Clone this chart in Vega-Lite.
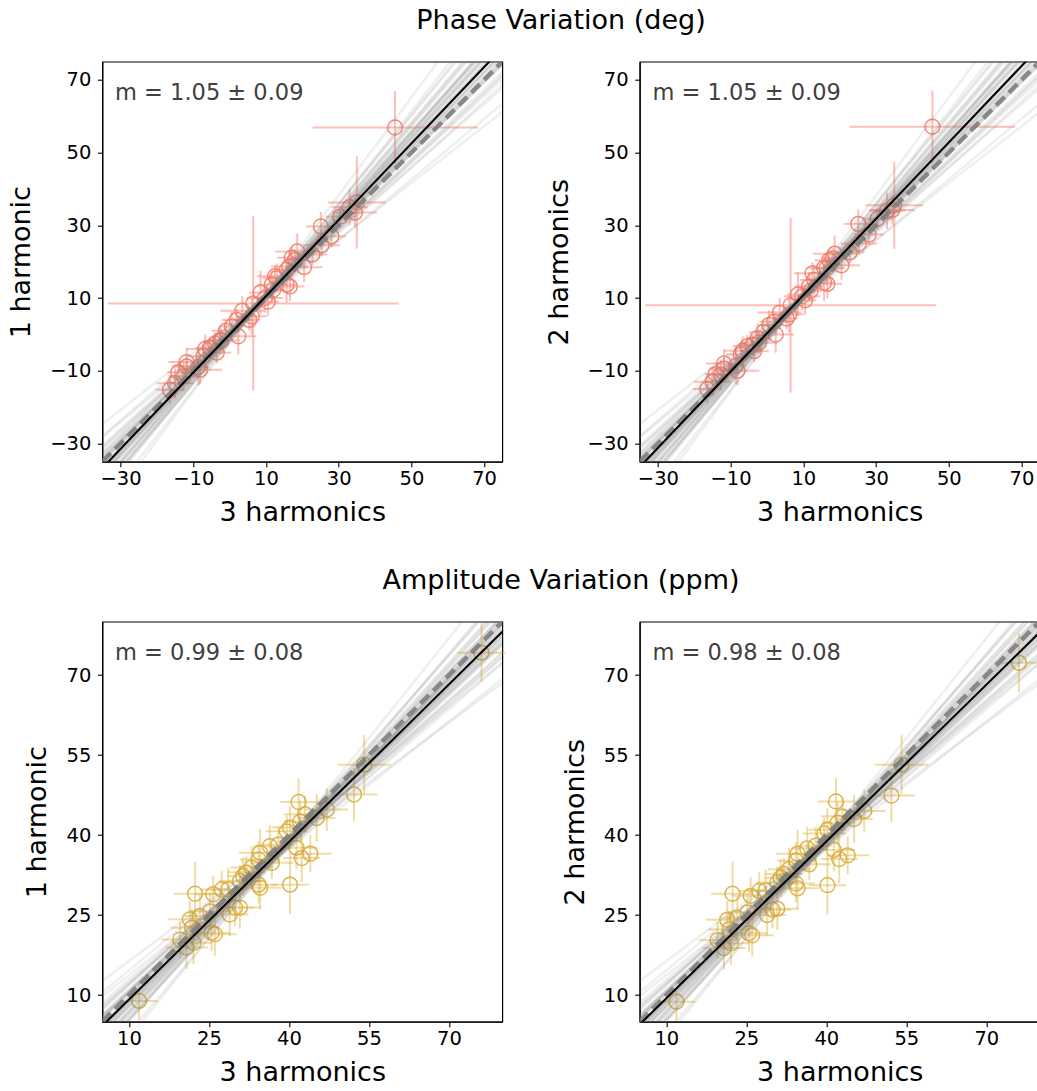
{
"$schema": "https://vega.github.io/schema/vega-lite/v6.json",
"autosize": {"type": "none"},
"padding": {"left": 102.3, "top": 61.7, "right": 934.7, "bottom": 1029.3},
"background": "white",
"config": {
  "font": "DejaVu Sans",
  "view": {"stroke": "#000000", "strokeWidth": 1.2},
  "axis": {"domainColor": "#000000", "domainWidth": 1.2, "tickColor": "#000000", "tickSize": 5, "tickWidth": 1.1, "labelColor": "#000000", "labelFontSize": 19.5, "labelFont": "DejaVu Sans", "titleFont": "DejaVu Sans", "titleFontSize": 27, "titleFontWeight": "normal", "titleColor": "#000000", "grid": false, "labelExpr": "replace(datum.label, '-', '\u2212')"},
  "axisY": {"titlePadding": 14, "labelPadding": 6.5},
  "axisX": {"titlePadding": 11, "labelPadding": 3},
  "title": {"font": "DejaVu Sans", "fontSize": 27, "fontWeight": "normal", "color": "#000000"}
},
"datasets": {
  "phase": [
    {"x": 45.5, "xe": 22.7, "y1": 56.9, "ye1": 10, "y2": 57.1, "ye2": 10},
    {"x": 35.0, "xe": 8, "y1": 36.3, "ye1": 12.7, "y2": 35.5, "ye2": 12},
    {"x": 34.5, "xe": 6, "y1": 33.5, "ye1": 4, "y2": 34.2, "ye2": 4},
    {"x": 33.0, "xe": 5, "y1": 35.0, "ye1": 5, "y2": 34.0, "ye2": 5},
    {"x": 30.4, "xe": 4, "y1": 32.4, "ye1": 3, "y2": 31.8, "ye2": 3},
    {"x": 25.1, "xe": 4, "y1": 29.7, "ye1": 4, "y2": 30.4, "ye2": 4},
    {"x": 25.3, "xe": 5, "y1": 24.5, "ye1": 3, "y2": 25.0, "ye2": 3},
    {"x": 22.8, "xe": 4, "y1": 22.0, "ye1": 3, "y2": 22.6, "ye2": 3},
    {"x": 18.6, "xe": 6, "y1": 22.8, "ye1": 5, "y2": 22.2, "ye2": 5},
    {"x": 17.1, "xe": 4, "y1": 21.1, "ye1": 3, "y2": 20.4, "ye2": 3},
    {"x": 18.0, "xe": 3, "y1": 20.5, "ye1": 3, "y2": 20.9, "ye2": 3},
    {"x": 16.4, "xe": 5, "y1": 18.7, "ye1": 4, "y2": 18.2, "ye2": 4},
    {"x": 15.7, "xe": 3, "y1": 17.8, "ye1": 3, "y2": 18.3, "ye2": 3},
    {"x": 16.6, "xe": 4, "y1": 13.2, "ye1": 4, "y2": 13.9, "ye2": 4},
    {"x": 15.7, "xe": 3, "y1": 13.7, "ye1": 5, "y2": 14.2, "ye2": 5},
    {"x": 13.0, "xe": 4, "y1": 15.5, "ye1": 4, "y2": 15.0, "ye2": 4},
    {"x": 12.5, "xe": 5, "y1": 16.0, "ye1": 3, "y2": 16.8, "ye2": 3},
    {"x": 12.0, "xe": 3, "y1": 12.3, "ye1": 3, "y2": 12.0, "ye2": 3},
    {"x": 11.6, "xe": 4, "y1": 13.7, "ye1": 4, "y2": 13.2, "ye2": 4},
    {"x": 9.7, "xe": 5, "y1": 10.0, "ye1": 4, "y2": 10.5, "ye2": 4},
    {"x": 8.5, "xe": 3, "y1": 11.5, "ye1": 6, "y2": 11.0, "ye2": 6},
    {"x": 6.5, "xe": 40, "y1": 8.5, "ye1": 24, "y2": 8.0, "ye2": 24},
    {"x": 6.1, "xe": 4, "y1": 5.0, "ye1": 5, "y2": 5.5, "ye2": 5},
    {"x": 5.4, "xe": 3, "y1": 4.0, "ye1": 3, "y2": 4.4, "ye2": 3},
    {"x": 3.5, "xe": 6, "y1": 6.5, "ye1": 4, "y2": 6.0, "ye2": 4},
    {"x": 1.95, "xe": 4, "y1": 4.0, "ye1": 3, "y2": 3.5, "ye2": 3},
    {"x": 0.6, "xe": 3, "y1": 2.2, "ye1": 4, "y2": 2.6, "ye2": 4},
    {"x": 2.4, "xe": 5, "y1": -0.5, "ye1": 5, "y2": 0.0, "ye2": 5},
    {"x": -1.0, "xe": 4, "y1": 1.0, "ye1": 3, "y2": 0.6, "ye2": 3},
    {"x": -2.6, "xe": 3, "y1": -1.5, "ye1": 4, "y2": -1.0, "ye2": 4},
    {"x": -2.2, "xe": 5, "y1": -1.7, "ye1": 3, "y2": -2.3, "ye2": 3},
    {"x": -5.4, "xe": 4, "y1": -3.7, "ye1": 3, "y2": -3.2, "ye2": 3},
    {"x": -4.0, "xe": 3, "y1": -2.5, "ye1": 3, "y2": -2.9, "ye2": 3},
    {"x": -6.7, "xe": 5, "y1": -4.0, "ye1": 4, "y2": -4.5, "ye2": 4},
    {"x": -7.2, "xe": 4, "y1": -6.0, "ye1": 3, "y2": -5.5, "ye2": 3},
    {"x": -8.6, "xe": 3, "y1": -9.0, "ye1": 5, "y2": -8.6, "ye2": 5},
    {"x": -8.1, "xe": 6, "y1": -9.7, "ye1": 4, "y2": -10.0, "ye2": 4},
    {"x": -11.8, "xe": 4, "y1": -8.8, "ye1": 3, "y2": -9.4, "ye2": 3},
    {"x": -11.8, "xe": 5, "y1": -7.6, "ye1": 4, "y2": -8.0, "ye2": 4},
    {"x": -12.7, "xe": 4, "y1": -11.5, "ye1": 4, "y2": -11.0, "ye2": 4},
    {"x": -14.1, "xe": 3, "y1": -10.4, "ye1": 3, "y2": -10.9, "ye2": 3},
    {"x": -15.0, "xe": 5, "y1": -13.4, "ye1": 4, "y2": -13.0, "ye2": 4},
    {"x": -16.4, "xe": 4, "y1": -15.2, "ye1": 4, "y2": -15.0, "ye2": 4},
    {"x": 20.5, "xe": 5, "y1": 18.5, "ye1": 4, "y2": 19.0, "ye2": 4},
    {"x": 28.0, "xe": 4, "y1": 27.0, "ye1": 3, "y2": 27.5, "ye2": 3},
    {"x": 10.5, "xe": 3, "y1": 9.0, "ye1": 4, "y2": 9.4, "ye2": 4},
    {"x": -3.5, "xe": 4, "y1": -5.0, "ye1": 3, "y2": -4.6, "ye2": 3}
  ],
  "amp": [
    {"x": 76.1, "xe": 4.5, "y1": 74.2, "ye1": 5.5, "y2": 72.3, "ye2": 5.5},
    {"x": 54.1, "xe": 5, "y1": 53.2, "ye1": 5.6, "y2": 53.2, "ye2": 5.6},
    {"x": 52.2, "xe": 4.4, "y1": 47.6, "ye1": 5, "y2": 47.4, "ye2": 5},
    {"x": 41.8, "xe": 3.4, "y1": 46.2, "ye1": 4.4, "y2": 46.3, "ye2": 4.4},
    {"x": 47.1, "xe": 4, "y1": 44.8, "ye1": 4, "y2": 44.5, "ye2": 4},
    {"x": 45.2, "xe": 3.5, "y1": 43.2, "ye1": 4.5, "y2": 43.0, "ye2": 4.5},
    {"x": 43.0, "xe": 4, "y1": 43.9, "ye1": 3.5, "y2": 43.5, "ye2": 3.5},
    {"x": 42.1, "xe": 3, "y1": 42.5, "ye1": 4, "y2": 42.3, "ye2": 4},
    {"x": 40.2, "xe": 3.5, "y1": 41.4, "ye1": 4, "y2": 41.0, "ye2": 4},
    {"x": 39.6, "xe": 4, "y1": 40.7, "ye1": 3, "y2": 40.3, "ye2": 3},
    {"x": 38.0, "xe": 3, "y1": 38.2, "ye1": 3.5, "y2": 38.0, "ye2": 3.5},
    {"x": 41.4, "xe": 4, "y1": 37.6, "ye1": 4, "y2": 37.2, "ye2": 4},
    {"x": 42.4, "xe": 3.5, "y1": 35.7, "ye1": 4.5, "y2": 35.5, "ye2": 4.5},
    {"x": 44.0, "xe": 4, "y1": 36.5, "ye1": 3.5, "y2": 36.2, "ye2": 3.5},
    {"x": 40.2, "xe": 3.5, "y1": 30.7, "ye1": 5.5, "y2": 30.6, "ye2": 5.5},
    {"x": 36.8, "xe": 4, "y1": 34.8, "ye1": 3, "y2": 34.5, "ye2": 3},
    {"x": 36.4, "xe": 3, "y1": 37.9, "ye1": 4, "y2": 37.5, "ye2": 4},
    {"x": 34.6, "xe": 4, "y1": 36.7, "ye1": 4.5, "y2": 36.5, "ye2": 4.5},
    {"x": 34.3, "xe": 3.5, "y1": 35.4, "ye1": 3.5, "y2": 35.2, "ye2": 3.5},
    {"x": 33.0, "xe": 4, "y1": 33.9, "ye1": 4, "y2": 33.6, "ye2": 4},
    {"x": 34.3, "xe": 3.5, "y1": 30.7, "ye1": 3.5, "y2": 30.9, "ye2": 3.5},
    {"x": 34.6, "xe": 4, "y1": 30.1, "ye1": 4, "y2": 30.0, "ye2": 4},
    {"x": 31.4, "xe": 3, "y1": 32.3, "ye1": 3.5, "y2": 32.0, "ye2": 3.5},
    {"x": 30.8, "xe": 4, "y1": 31.4, "ye1": 3, "y2": 31.1, "ye2": 3},
    {"x": 28.6, "xe": 3.5, "y1": 29.8, "ye1": 4, "y2": 29.6, "ye2": 4},
    {"x": 27.4, "xe": 4, "y1": 29.8, "ye1": 3.5, "y2": 29.5, "ye2": 3.5},
    {"x": 25.8, "xe": 3.5, "y1": 28.9, "ye1": 3.5, "y2": 28.6, "ye2": 3.5},
    {"x": 22.4, "xe": 4, "y1": 29.0, "ye1": 6, "y2": 29.0, "ye2": 6},
    {"x": 25.2, "xe": 4, "y1": 25.7, "ye1": 3.5, "y2": 25.5, "ye2": 3.5},
    {"x": 23.3, "xe": 3, "y1": 24.8, "ye1": 4, "y2": 24.5, "ye2": 4},
    {"x": 21.4, "xe": 4, "y1": 24.2, "ye1": 3.5, "y2": 24.1, "ye2": 3.5},
    {"x": 28.9, "xe": 3.5, "y1": 25.1, "ye1": 4, "y2": 25.0, "ye2": 4},
    {"x": 30.8, "xe": 4, "y1": 26.4, "ye1": 4, "y2": 26.2, "ye2": 4},
    {"x": 29.9, "xe": 3.5, "y1": 26.4, "ye1": 3.5, "y2": 26.0, "ye2": 3.5},
    {"x": 25.5, "xe": 3.5, "y1": 21.7, "ye1": 3.5, "y2": 21.6, "ye2": 3.5},
    {"x": 26.1, "xe": 4, "y1": 21.4, "ye1": 4, "y2": 21.2, "ye2": 4},
    {"x": 21.8, "xe": 4, "y1": 22.6, "ye1": 3.5, "y2": 22.3, "ye2": 3.5},
    {"x": 22.1, "xe": 3.5, "y1": 19.8, "ye1": 4, "y2": 19.7, "ye2": 4},
    {"x": 20.8, "xe": 4, "y1": 18.9, "ye1": 4, "y2": 18.8, "ye2": 4},
    {"x": 11.9, "xe": 3.5, "y1": 8.9, "ye1": 3.5, "y2": 8.75, "ye2": 3.5},
    {"x": 19.6, "xe": 3.5, "y1": 20.4, "ye1": 3.5, "y2": 20.3, "ye2": 3.5},
    {"x": 32.0, "xe": 3.5, "y1": 33.0, "ye1": 3, "y2": 32.7, "ye2": 3}
  ],
  "plines": [
    {"x0": -35, "y0": -24.64, "x1": 75, "y1": 61.16},
    {"x0": -35, "y0": -28.26, "x1": 75, "y1": 63.48},
    {"x0": -35, "y0": -28.01, "x1": 75, "y1": 67.69},
    {"x0": -35, "y0": -31.06, "x1": 75, "y1": 68.60},
    {"x0": -35, "y0": -31.42, "x1": 75, "y1": 71.21},
    {"x0": -35, "y0": -33.49, "x1": 75, "y1": 71.12},
    {"x0": -35, "y0": -32.47, "x1": 75, "y1": 74.12},
    {"x0": -35, "y0": -34.34, "x1": 75, "y1": 74.23},
    {"x0": -35, "y0": -34.00, "x1": 75, "y1": 76.00},
    {"x0": -35, "y0": -35.90, "x1": 75, "y1": 75.64},
    {"x0": -35, "y0": -35.39, "x1": 75, "y1": 77.14},
    {"x0": -35, "y0": -34.88, "x1": 75, "y1": 78.64},
    {"x0": -35, "y0": -36.76, "x1": 75, "y1": 77.75},
    {"x0": -35, "y0": -36.75, "x1": 75, "y1": 78.75},
    {"x0": -35, "y0": -36.64, "x1": 75, "y1": 79.85},
    {"x0": -35, "y0": -38.42, "x1": 75, "y1": 79.06},
    {"x0": -35, "y0": -37.61, "x1": 75, "y1": 80.86},
    {"x0": -35, "y0": -38.67, "x1": 75, "y1": 81.23},
    {"x0": -35, "y0": -38.17, "x1": 75, "y1": 83.27},
    {"x0": -35, "y0": -40.27, "x1": 75, "y1": 82.71},
    {"x0": -35, "y0": -40.13, "x1": 75, "y1": 84.28},
    {"x0": -35, "y0": -42.21, "x1": 75, "y1": 84.18},
    {"x0": -35, "y0": -41.08, "x1": 75, "y1": 87.29},
    {"x0": -35, "y0": -43.24, "x1": 75, "y1": 88.10},
    {"x0": -35, "y0": -44.09, "x1": 75, "y1": 91.21},
    {"x0": -35, "y0": -47.03, "x1": 75, "y1": 93.23},
    {"x0": -35, "y0": -49.32, "x1": 75, "y1": 98.85},
    {"x0": -35, "y0": -30.55, "x1": 75, "y1": 70.11},
    {"x0": -35, "y0": -33.38, "x1": 75, "y1": 72.22},
    {"x0": -35, "y0": -32.75, "x1": 75, "y1": 74.83},
    {"x0": -35, "y0": -34.63, "x1": 75, "y1": 74.93},
    {"x0": -35, "y0": -34.80, "x1": 75, "y1": 77.24},
    {"x0": -35, "y0": -36.97, "x1": 75, "y1": 77.05},
    {"x0": -35, "y0": -36.64, "x1": 75, "y1": 79.35},
    {"x0": -35, "y0": -37.73, "x1": 75, "y1": 79.25},
    {"x0": -35, "y0": -37.40, "x1": 75, "y1": 81.56},
    {"x0": -35, "y0": -38.79, "x1": 75, "y1": 81.67},
    {"x0": -35, "y0": -38.96, "x1": 75, "y1": 83.47},
    {"x0": -35, "y0": -41.13, "x1": 75, "y1": 83.78},
    {"x0": -35, "y0": -41.19, "x1": 75, "y1": 86.19},
    {"x0": -35, "y0": -42.86, "x1": 75, "y1": 86.99},
    {"x0": -35, "y0": -42.92, "x1": 75, "y1": 90.40}
  ],
  "alines": [
    {"x0": 5, "y0": 12.65, "x1": 80, "y1": 68.52},
    {"x0": 5, "y0": 9.76, "x1": 80, "y1": 69.24},
    {"x0": 5, "y0": 10.51, "x1": 80, "y1": 72.38},
    {"x0": 5, "y0": 7.95, "x1": 80, "y1": 72.22},
    {"x0": 5, "y0": 7.96, "x1": 80, "y1": 74.03},
    {"x0": 5, "y0": 6.13, "x1": 80, "y1": 73.40},
    {"x0": 5, "y0": 7.40, "x1": 80, "y1": 75.88},
    {"x0": 5, "y0": 5.77, "x1": 80, "y1": 75.45},
    {"x0": 5, "y0": 6.28, "x1": 80, "y1": 76.85},
    {"x0": 5, "y0": 4.58, "x1": 80, "y1": 76.06},
    {"x0": 5, "y0": 5.22, "x1": 80, "y1": 77.29},
    {"x0": 5, "y0": 5.85, "x1": 80, "y1": 78.53},
    {"x0": 5, "y0": 4.09, "x1": 80, "y1": 77.36},
    {"x0": 5, "y0": 4.23, "x1": 80, "y1": 78.10},
    {"x0": 5, "y0": 4.46, "x1": 80, "y1": 78.94},
    {"x0": 5, "y0": 2.80, "x1": 80, "y1": 77.87},
    {"x0": 5, "y0": 3.73, "x1": 80, "y1": 79.41},
    {"x0": 5, "y0": 2.84, "x1": 80, "y1": 79.41},
    {"x0": 5, "y0": 3.54, "x1": 80, "y1": 81.02},
    {"x0": 5, "y0": 1.65, "x1": 80, "y1": 80.02},
    {"x0": 5, "y0": 1.95, "x1": 80, "y1": 81.22},
    {"x0": 5, "y0": 0.12, "x1": 80, "y1": 80.60},
    {"x0": 5, "y0": 1.49, "x1": 80, "y1": 83.17},
    {"x0": 5, "y0": -0.30, "x1": 80, "y1": 83.18},
    {"x0": 5, "y0": -0.66, "x1": 80, "y1": 85.22},
    {"x0": 5, "y0": -2.98, "x1": 80, "y1": 85.90},
    {"x0": 5, "y0": -4.29, "x1": 80, "y1": 89.39},
    {"x0": 5, "y0": 8.59, "x1": 80, "y1": 73.46},
    {"x0": 5, "y0": 6.37, "x1": 80, "y1": 74.24},
    {"x0": 5, "y0": 7.24, "x1": 80, "y1": 76.31},
    {"x0": 5, "y0": 5.61, "x1": 80, "y1": 75.88},
    {"x0": 5, "y0": 5.75, "x1": 80, "y1": 77.52},
    {"x0": 5, "y0": 3.82, "x1": 80, "y1": 76.80},
    {"x0": 5, "y0": 4.39, "x1": 80, "y1": 78.57},
    {"x0": 5, "y0": 3.43, "x1": 80, "y1": 78.20},
    {"x0": 5, "y0": 4.00, "x1": 80, "y1": 79.98},
    {"x0": 5, "y0": 2.81, "x1": 80, "y1": 79.68},
    {"x0": 5, "y0": 2.88, "x1": 80, "y1": 80.95},
    {"x0": 5, "y0": 1.02, "x1": 80, "y1": 80.59},
    {"x0": 5, "y0": 1.26, "x1": 80, "y1": 82.33},
    {"x0": 5, "y0": -0.10, "x1": 80, "y1": 82.47},
    {"x0": 5, "y0": 0.27, "x1": 80, "y1": 84.95}
  ],
  "fits": [
    {"panel": "P1", "kind": "one", "x0": -35, "y0": -35, "x1": 75, "y1": 75},
    {"panel": "P1", "kind": "fit", "x0": -35, "y0": -36.75, "x1": 75, "y1": 78.75},
    {"panel": "P2", "kind": "one", "x0": -35, "y0": -35, "x1": 75, "y1": 75},
    {"panel": "P2", "kind": "fit", "x0": -35, "y0": -36.45, "x1": 75, "y1": 79.05},
    {"panel": "A1", "kind": "one", "x0": 5, "y0": 5, "x1": 80, "y1": 80},
    {"panel": "A1", "kind": "fit", "x0": 5, "y0": 4.225, "x1": 80, "y1": 78.1},
    {"panel": "A2", "kind": "one", "x0": 5, "y0": 5, "x1": 80, "y1": 80},
    {"panel": "A2", "kind": "fit", "x0": 5, "y0": 4.5, "x1": 80, "y1": 78.0}
  ]
},
"bounds": "flush",
"columns": 2,
"spacing": {"row": 160, "column": 137.4},
"concat": [
   {
    "title": {"text": "Phase Variation (deg)", "anchor": "middle", "frame": "group", "baseline": "alphabetic", "offset": 6, "dx": 258.7},
    "width": 400, "height": 400,
    "layer": [
     {"data": {"name": "phase"}, "mark": {"type": "errorbar", "color": "#fa8072", "opacity": 0.5, "thickness": 2},
      "encoding": {
       "x": {"field": "x", "type": "quantitative", "scale": {"domain": [-35, 75], "nice": false, "zero": false}, "axis": {"title": "3 harmonics", "values": [-30, -10, 10, 30, 50, 70]}},
       "xError": {"field": "xe"},
       "y": {"field": "y1", "type": "quantitative", "scale": {"domain": [-35, 75], "nice": false, "zero": false}, "axis": {"title": "1 harmonic", "values": [-30, -10, 10, 30, 50, 70]}}}},
     {"data": {"name": "phase"}, "mark": {"type": "errorbar", "color": "#fa8072", "opacity": 0.5, "thickness": 2},
      "encoding": {"x": {"field": "x", "type": "quantitative", "title": "3 harmonics"}, "y": {"field": "y1", "type": "quantitative", "title": "1 harmonic"}, "yError": {"field": "ye1"}}},
     {"data": {"name": "phase"}, "mark": {"type": "point", "shape": "circle", "filled": false, "size": 220, "strokeWidth": 1.5, "color": "#f47a66", "opacity": 0.85},
      "encoding": {"x": {"field": "x", "type": "quantitative", "title": "3 harmonics"}, "y": {"field": "y1", "type": "quantitative", "title": "1 harmonic"}}},
     {"data": {"name": "plines"}, "mark": {"type": "rule", "clip": true, "color": "#808080", "opacity": 0.13, "strokeWidth": 2.5},
      "encoding": {"x": {"field": "x0", "type": "quantitative", "title": "3 harmonics"}, "y": {"field": "y0", "type": "quantitative", "title": "1 harmonic"}, "x2": {"field": "x1"}, "y2": {"field": "y1"}}},
     {"data": {"name": "fits"}, "transform": [{"filter": "datum.panel == 'P1' && datum.kind == 'one'"}], "mark": {"type": "rule", "clip": true, "color": "#7a7a7a", "opacity": 0.85, "strokeWidth": 4.5, "strokeDash": [12, 6]},
      "encoding": {"x": {"field": "x0", "type": "quantitative", "title": "3 harmonics"}, "y": {"field": "y0", "type": "quantitative", "title": "1 harmonic"}, "x2": {"field": "x1"}, "y2": {"field": "y1"}}},
     {"data": {"name": "fits"}, "transform": [{"filter": "datum.panel == 'P1' && datum.kind == 'fit'"}], "mark": {"type": "rule", "clip": true, "color": "#000000", "strokeWidth": 2},
      "encoding": {"x": {"field": "x0", "type": "quantitative", "title": "3 harmonics"}, "y": {"field": "y0", "type": "quantitative", "title": "1 harmonic"}, "x2": {"field": "x1"}, "y2": {"field": "y1"}}},
     {"data": {"values": [{"t": "m = 1.05 \u00b1 0.09"}]}, "mark": {"type": "text", "align": "left", "baseline": "alphabetic", "fontSize": 22.5, "color": "#404040"},
      "encoding": {"x": {"datum": -31.5, "type": "quantitative", "title": "3 harmonics"}, "y": {"datum": 64.5, "type": "quantitative", "title": "1 harmonic"}, "text": {"field": "t"}}}
    ]
   },
   {
    "width": 400, "height": 400,
    "layer": [
     {"data": {"name": "phase"}, "mark": {"type": "errorbar", "color": "#fa8072", "opacity": 0.5, "thickness": 2},
      "encoding": {
       "x": {"field": "x", "type": "quantitative", "scale": {"domain": [-35, 75], "nice": false, "zero": false}, "axis": {"title": "3 harmonics", "values": [-30, -10, 10, 30, 50, 70]}},
       "xError": {"field": "xe"},
       "y": {"field": "y2", "type": "quantitative", "scale": {"domain": [-35, 75], "nice": false, "zero": false}, "axis": {"title": "2 harmonics", "values": [-30, -10, 10, 30, 50, 70]}}}},
     {"data": {"name": "phase"}, "mark": {"type": "errorbar", "color": "#fa8072", "opacity": 0.5, "thickness": 2},
      "encoding": {"x": {"field": "x", "type": "quantitative", "title": "3 harmonics"}, "y": {"field": "y2", "type": "quantitative", "title": "2 harmonics"}, "yError": {"field": "ye2"}}},
     {"data": {"name": "phase"}, "mark": {"type": "point", "shape": "circle", "filled": false, "size": 220, "strokeWidth": 1.5, "color": "#f47a66", "opacity": 0.85},
      "encoding": {"x": {"field": "x", "type": "quantitative", "title": "3 harmonics"}, "y": {"field": "y2", "type": "quantitative", "title": "2 harmonics"}}},
     {"data": {"name": "plines"}, "mark": {"type": "rule", "clip": true, "color": "#808080", "opacity": 0.13, "strokeWidth": 2.5},
      "encoding": {"x": {"field": "x0", "type": "quantitative", "title": "3 harmonics"}, "y": {"field": "y0", "type": "quantitative", "title": "2 harmonics"}, "x2": {"field": "x1"}, "y2": {"field": "y1"}}},
     {"data": {"name": "fits"}, "transform": [{"filter": "datum.panel == 'P2' && datum.kind == 'one'"}], "mark": {"type": "rule", "clip": true, "color": "#7a7a7a", "opacity": 0.85, "strokeWidth": 4.5, "strokeDash": [12, 6]},
      "encoding": {"x": {"field": "x0", "type": "quantitative", "title": "3 harmonics"}, "y": {"field": "y0", "type": "quantitative", "title": "2 harmonics"}, "x2": {"field": "x1"}, "y2": {"field": "y1"}}},
     {"data": {"name": "fits"}, "transform": [{"filter": "datum.panel == 'P2' && datum.kind == 'fit'"}], "mark": {"type": "rule", "clip": true, "color": "#000000", "strokeWidth": 2},
      "encoding": {"x": {"field": "x0", "type": "quantitative", "title": "3 harmonics"}, "y": {"field": "y0", "type": "quantitative", "title": "2 harmonics"}, "x2": {"field": "x1"}, "y2": {"field": "y1"}}},
     {"data": {"values": [{"t": "m = 1.05 \u00b1 0.09"}]}, "mark": {"type": "text", "align": "left", "baseline": "alphabetic", "fontSize": 22.5, "color": "#404040"},
      "encoding": {"x": {"datum": -31.5, "type": "quantitative", "title": "3 harmonics"}, "y": {"datum": 64.5, "type": "quantitative", "title": "2 harmonics"}, "text": {"field": "t"}}}
    ]
   },
   {
    "title": {"text": "Amplitude Variation (ppm)", "anchor": "middle", "frame": "group", "baseline": "alphabetic", "offset": 6, "dx": 258.7},
    "width": 400, "height": 400,
    "layer": [
     {"data": {"name": "amp"}, "mark": {"type": "errorbar", "color": "#dfb13f", "opacity": 0.45, "thickness": 2},
      "encoding": {
       "x": {"field": "x", "type": "quantitative", "scale": {"domain": [5, 80], "nice": false, "zero": false}, "axis": {"title": "3 harmonics", "values": [10, 25, 40, 55, 70]}},
       "xError": {"field": "xe"},
       "y": {"field": "y1", "type": "quantitative", "scale": {"domain": [5, 80], "nice": false, "zero": false}, "axis": {"title": "1 harmonic", "values": [10, 25, 40, 55, 70]}}}},
     {"data": {"name": "amp"}, "mark": {"type": "errorbar", "color": "#dfb13f", "opacity": 0.45, "thickness": 2},
      "encoding": {"x": {"field": "x", "type": "quantitative", "title": "3 harmonics"}, "y": {"field": "y1", "type": "quantitative", "title": "1 harmonic"}, "yError": {"field": "ye1"}}},
     {"data": {"name": "amp"}, "mark": {"type": "point", "shape": "circle", "filled": false, "size": 220, "strokeWidth": 1.5, "color": "#d9aa35", "opacity": 0.85},
      "encoding": {"x": {"field": "x", "type": "quantitative", "title": "3 harmonics"}, "y": {"field": "y1", "type": "quantitative", "title": "1 harmonic"}}},
     {"data": {"name": "alines"}, "mark": {"type": "rule", "clip": true, "color": "#808080", "opacity": 0.13, "strokeWidth": 2.5},
      "encoding": {"x": {"field": "x0", "type": "quantitative", "title": "3 harmonics"}, "y": {"field": "y0", "type": "quantitative", "title": "1 harmonic"}, "x2": {"field": "x1"}, "y2": {"field": "y1"}}},
     {"data": {"name": "fits"}, "transform": [{"filter": "datum.panel == 'A1' && datum.kind == 'one'"}], "mark": {"type": "rule", "clip": true, "color": "#7a7a7a", "opacity": 0.85, "strokeWidth": 4.5, "strokeDash": [12, 6]},
      "encoding": {"x": {"field": "x0", "type": "quantitative", "title": "3 harmonics"}, "y": {"field": "y0", "type": "quantitative", "title": "1 harmonic"}, "x2": {"field": "x1"}, "y2": {"field": "y1"}}},
     {"data": {"name": "fits"}, "transform": [{"filter": "datum.panel == 'A1' && datum.kind == 'fit'"}], "mark": {"type": "rule", "clip": true, "color": "#000000", "strokeWidth": 2},
      "encoding": {"x": {"field": "x0", "type": "quantitative", "title": "3 harmonics"}, "y": {"field": "y0", "type": "quantitative", "title": "1 harmonic"}, "x2": {"field": "x1"}, "y2": {"field": "y1"}}},
     {"data": {"values": [{"t": "m = 0.99 \u00b1 0.08"}]}, "mark": {"type": "text", "align": "left", "baseline": "alphabetic", "fontSize": 22.5, "color": "#404040"},
      "encoding": {"x": {"datum": 7.38, "type": "quantitative", "title": "3 harmonics"}, "y": {"datum": 72.8, "type": "quantitative", "title": "1 harmonic"}, "text": {"field": "t"}}}
    ]
   },
   {
    "width": 400, "height": 400,
    "layer": [
     {"data": {"name": "amp"}, "mark": {"type": "errorbar", "color": "#dfb13f", "opacity": 0.45, "thickness": 2},
      "encoding": {
       "x": {"field": "x", "type": "quantitative", "scale": {"domain": [5, 80], "nice": false, "zero": false}, "axis": {"title": "3 harmonics", "values": [10, 25, 40, 55, 70]}},
       "xError": {"field": "xe"},
       "y": {"field": "y2", "type": "quantitative", "scale": {"domain": [5, 80], "nice": false, "zero": false}, "axis": {"title": "2 harmonics", "values": [10, 25, 40, 55, 70]}}}},
     {"data": {"name": "amp"}, "mark": {"type": "errorbar", "color": "#dfb13f", "opacity": 0.45, "thickness": 2},
      "encoding": {"x": {"field": "x", "type": "quantitative", "title": "3 harmonics"}, "y": {"field": "y2", "type": "quantitative", "title": "2 harmonics"}, "yError": {"field": "ye2"}}},
     {"data": {"name": "amp"}, "mark": {"type": "point", "shape": "circle", "filled": false, "size": 220, "strokeWidth": 1.5, "color": "#d9aa35", "opacity": 0.85},
      "encoding": {"x": {"field": "x", "type": "quantitative", "title": "3 harmonics"}, "y": {"field": "y2", "type": "quantitative", "title": "2 harmonics"}}},
     {"data": {"name": "alines"}, "mark": {"type": "rule", "clip": true, "color": "#808080", "opacity": 0.13, "strokeWidth": 2.5},
      "encoding": {"x": {"field": "x0", "type": "quantitative", "title": "3 harmonics"}, "y": {"field": "y0", "type": "quantitative", "title": "2 harmonics"}, "x2": {"field": "x1"}, "y2": {"field": "y1"}}},
     {"data": {"name": "fits"}, "transform": [{"filter": "datum.panel == 'A2' && datum.kind == 'one'"}], "mark": {"type": "rule", "clip": true, "color": "#7a7a7a", "opacity": 0.85, "strokeWidth": 4.5, "strokeDash": [12, 6]},
      "encoding": {"x": {"field": "x0", "type": "quantitative", "title": "3 harmonics"}, "y": {"field": "y0", "type": "quantitative", "title": "2 harmonics"}, "x2": {"field": "x1"}, "y2": {"field": "y1"}}},
     {"data": {"name": "fits"}, "transform": [{"filter": "datum.panel == 'A2' && datum.kind == 'fit'"}], "mark": {"type": "rule", "clip": true, "color": "#000000", "strokeWidth": 2},
      "encoding": {"x": {"field": "x0", "type": "quantitative", "title": "3 harmonics"}, "y": {"field": "y0", "type": "quantitative", "title": "2 harmonics"}, "x2": {"field": "x1"}, "y2": {"field": "y1"}}},
     {"data": {"values": [{"t": "m = 0.98 \u00b1 0.08"}]}, "mark": {"type": "text", "align": "left", "baseline": "alphabetic", "fontSize": 22.5, "color": "#404040"},
      "encoding": {"x": {"datum": 7.38, "type": "quantitative", "title": "3 harmonics"}, "y": {"datum": 72.8, "type": "quantitative", "title": "2 harmonics"}, "text": {"field": "t"}}}
    ]
   }
]
}
